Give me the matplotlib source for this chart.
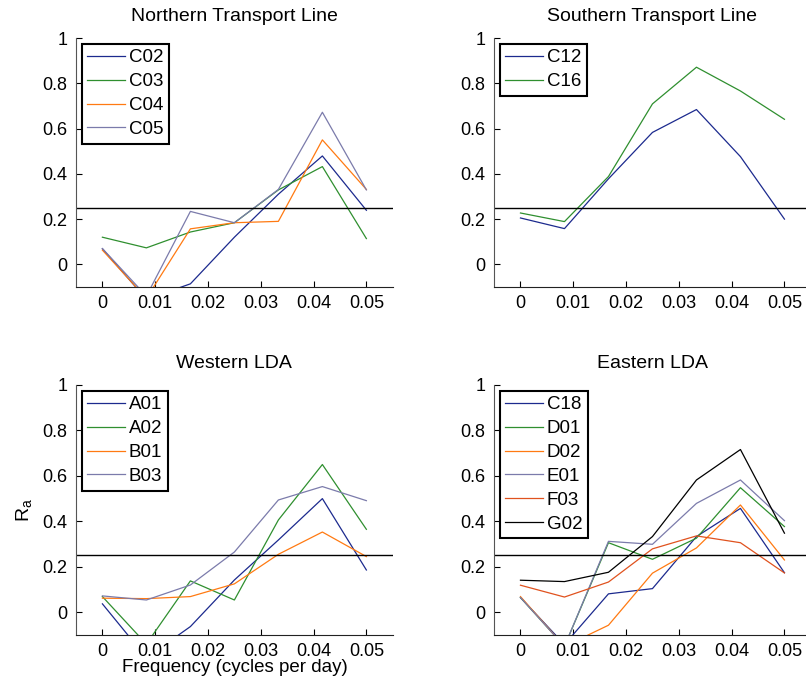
import matplotlib
matplotlib.use('Agg')
from matplotlib import pyplot as plt

plt.rcParams['font.family'] = ['Liberation Sans', 'DejaVu Sans']

freq = [0, 1/120, 2/120, 3/120, 4/120, 5/120, 6/120]
threshold = 0.25

north_names = ['C02', 'C03', 'C04', 'C05']
north_vals = [
    [0.069, -0.154, -0.086, 0.12, 0.31, 0.479, 0.239],
    [0.12, 0.073, 0.143, 0.184, 0.329, 0.432, 0.114],
    [0.063, -0.15, 0.157, 0.184, 0.19, 0.55, 0.331],
    [0.07, -0.14, 0.234, 0.184, 0.331, 0.672, 0.329],
]

south_names = ['C12', 'C16']
south_vals = [
    [0.205, 0.158, 0.378, 0.583, 0.684, 0.476, 0.2],
    [0.227, 0.189, 0.388, 0.709, 0.871, 0.766, 0.641],
]

west_names = ['A01', 'A02', 'B01', 'B03']
west_vals = [
    [0.037, -0.2, -0.063, 0.142, 0.318, 0.5, 0.186],
    [0.069, -0.14, 0.138, 0.054, 0.406, 0.65, 0.365],
    [0.062, 0.06, 0.069, 0.125, 0.255, 0.353, 0.245],
    [0.072, 0.054, 0.12, 0.265, 0.494, 0.553, 0.491],
]

east_names = ['C18', 'D01', 'D02', 'E01', 'F03', 'G02']
east_vals = [
    [0.065, -0.142, 0.081, 0.104, 0.333, 0.457, 0.174],
    [0.065, -0.15, 0.306, 0.233, 0.326, 0.548, 0.377],
    [0.069, -0.15, -0.057, 0.172, 0.283, 0.472, 0.23],
    [0.065, -0.15, 0.312, 0.299, 0.479, 0.582, 0.403],
    [0.119, 0.067, 0.133, 0.279, 0.336, 0.306, 0.173],
    [0.141, 0.135, 0.176, 0.333, 0.582, 0.716, 0.348],
]

blue = '#1c2a8e'
green = '#2f8f2f'
orange = '#ff7a12'
purple = '#7b7bab'
red = '#e0521e'
black = '#000000'


def drawPanel(ax, title, names, vals, colors):
    for name, v, c in zip(names, vals, colors):
        ax.plot(freq, v, color=c, lw=0.9, label=name)
    ax.axhline(threshold, color='black', lw=1.0)
    ax.set_xlim(-0.005, 0.055)
    ax.set_ylim(-0.1, 1)
    ax.set_xticks([0, 0.01, 0.02, 0.03, 0.04, 0.05])
    ax.set_xticklabels(['0', '0.01', '0.02', '0.03', '0.04', '0.05'])
    ax.set_yticks([0, 0.2, 0.4, 0.6, 0.8, 1])
    ax.set_yticklabels(['0', '0.2', '0.4', '0.6', '0.8', '1'])
    ax.spines['top'].set_visible(False)
    ax.spines['right'].set_visible(False)
    ax.spines['left'].set_color('#555555')
    ax.spines['bottom'].set_color('#222222')
    ax.tick_params(direction='in', labelsize=13, length=4, width=0.8, pad=6)
    ax.set_title(title, fontsize=14, pad=12)
    leg = ax.legend(loc='upper left', fontsize=13.5, fancybox=False, framealpha=1,
                    handlelength=2.0, borderaxespad=0.3, labelspacing=0.36,
                    borderpad=0.3, handletextpad=0.2)
    leg.get_frame().set_edgecolor('black')
    leg.get_frame().set_linewidth(1.5)


fig = plt.figure(figsize=(8.06, 6.85), dpi=100)
ax1 = fig.add_axes([0.0943, 0.581, 0.393, 0.3635])
ax2 = fig.add_axes([0.613, 0.581, 0.393, 0.3635])
ax3 = fig.add_axes([0.0943, 0.073, 0.393, 0.365])
ax4 = fig.add_axes([0.613, 0.073, 0.393, 0.365])

drawPanel(ax1, 'Northern Transport Line', north_names, north_vals, [blue, green, orange, purple])
drawPanel(ax2, 'Southern Transport Line', south_names, south_vals, [blue, green])
drawPanel(ax3, 'Western LDA', west_names, west_vals, [blue, green, orange, purple])
drawPanel(ax4, 'Eastern LDA', east_names, east_vals, [blue, green, orange, purple, red, black])

ax3.set_xlabel('Frequency (cycles per day)', fontsize=13.5, labelpad=-1)
ax3.set_ylabel('$\\mathregular{R_a}$', fontsize=14, labelpad=6)

fig.savefig('out.png', dpi=100)
